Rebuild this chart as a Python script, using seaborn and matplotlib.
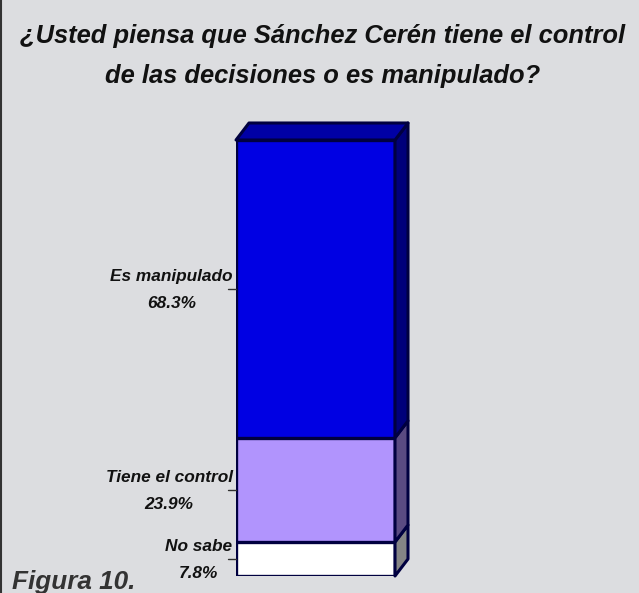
import matplotlib
matplotlib.use("Agg")
import matplotlib.pyplot as plt
from matplotlib.patches import Polygon
from matplotlib.lines import Line2D
from matplotlib import font_manager
import seaborn as sns
import pandas as pd

# Survey answers (percent), bottom to top of the stacked column
categories = ["No sabe", "Tiene el control", "Es manipulado"]
values = [7.8, 23.9, 68.3]
front_colors = ["#ffffff", "#b194fd", "#0000e3"]
side_colors = ["#858585", "#5a4b82", "#00007a"]
top_color = "#0000a6"
edge = "#000040"

title = "¿Usted piensa que Sánchez Cerén tiene el control\nde las decisiones o es manipulado?"
caption = "Figura 10."

names = {f.name for f in font_manager.fontManager.ttflist}
narrow = "Liberation Sans Narrow" if "Liberation Sans Narrow" in names else "Liberation Sans"

sns.set_theme(style="white")
plt.rcParams["font.family"] = [narrow, "DejaVu Sans"]

W, H = 639, 593
fig = plt.figure(figsize=(W / 100, H / 100), dpi=100)
bg = "#dcdde0"
fig.patch.set_facecolor(bg)

# axes box = front face of the column (pixels)
x0p, x1p, ybot, ytop = 236, 395, 576, 140
ax = fig.add_axes([x0p / W, (H - ybot) / H, (x1p - x0p) / W, (ybot - ytop) / H])
ax.set_facecolor("none")

# cumulative totals, drawn largest first so each segment overlays the next
cum = []
s = 0
for v in values:
    s += v
    cum.append(round(s, 1))
df = pd.DataFrame({"grupo": [""] * 3, "total": cum, "cat": categories})
for i in range(2, -1, -1):
    sns.barplot(data=df.iloc[[i]], x="grupo", y="total", color=front_colors[i],
                width=1.0, edgecolor=edge, linewidth=2.4, ax=ax, saturation=1)

ax.set_xlim(-0.5, 0.5)
ax.set_ylim(0, 100)
ax.set_axis_off()

# depth of the 3-D column in data units
dx = 13 / (x1p - x0p)
dy = 17 / (ybot - ytop) * 100

lo = 0
for i, v in enumerate(values):
    hi = lo + v
    side = Polygon([(0.5, lo), (0.5 + dx, lo + dy), (0.5 + dx, hi + dy), (0.5, hi)],
                   closed=True, facecolor=side_colors[i], edgecolor=edge,
                   linewidth=2.2, clip_on=False, joinstyle="round")
    ax.add_patch(side)
    mid = (lo + hi) / 2
    ax.add_line(Line2D([-0.5 - 8 / (x1p - x0p), -0.5], [mid, mid], color="#303030",
                       linewidth=1.0, clip_on=False))
    ax.annotate(f"{categories[i]}\n{v:.1f}%", xy=(-0.5, mid), xytext=(-2.5, -0.5),
                textcoords="offset points", ha="right", va="center",
                multialignment="center", fontsize=12.4, fontweight="bold",
                fontstyle="italic", color="#111111", linespacing=2.0,
                annotation_clip=False)
    lo = hi

topf = Polygon([(-0.5, 100), (-0.5 + dx, 100 + dy), (0.5 + dx, 100 + dy), (0.5, 100)],
               closed=True, facecolor=top_color, edgecolor=edge, linewidth=2.2,
               clip_on=False, joinstyle="round")
ax.add_patch(topf)

fig.text(323 / W, 1 - 56 / H, title, ha="center", va="center", fontsize=18.4,
         fontweight="bold", fontstyle="italic", color="#111111", linespacing=1.85)
fig.text(12 / W, 1 - 589 / H, caption, ha="left", va="baseline", fontsize=18.8,
         fontweight="bold", fontstyle="italic", color="#333333",
         family=["Liberation Sans", "DejaVu Sans"])

# thin frame on the left edge
fig.add_artist(Line2D([0.5 / W, 0.5 / W], [0, 1], color="#333333", linewidth=1.5,
                      transform=fig.transFigure))

fig.savefig("out.png", dpi=100, facecolor=bg)
